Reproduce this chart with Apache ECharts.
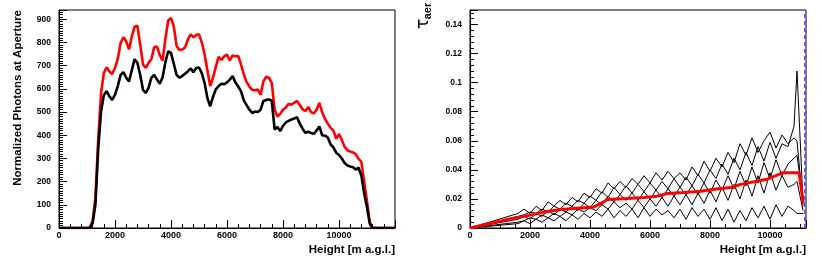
<!DOCTYPE html>
<html><head><meta charset="utf-8">
<script src="https://cdn.jsdelivr.net/npm/echarts@6/dist/echarts.min.js"></script>
<style>html,body{margin:0;padding:0;background:#fff}#c{width:822px;height:261px}</style>
</head><body><div id="c"></div>
<script>
// ---- Left panel: photons vs height ----
const heightsL = [0,
 1000,1100,1200,1300,1400,1500,1600,1700,1800,1900,
 2000,2100,2200,2300,2400,2500,2600,2700,2800,2900,
 3000,3100,3200,3300,3400,3500,3600,3700,3800,3900,
 4000,4100,4200,4300,4400,4500,4600,4700,4800,4900,
 5000,5100,5200,5300,5400,5500,5600,5700,5800,5900,
 6000,6100,6200,6300,6400,6500,6600,6700,6800,6900,
 7000,7100,7200,7300,7400,7500,7600,7700,7800,7900,
 8000,8100,8200,8300,8400,8500,8600,8700,8800,8900,
 9000,9100,9200,9300,9400,9500,9600,9700,9800,9900,
 10000,10100,10200,10300,10400,10500,10600,10700,10800,10900,
 11000,11100,11200,
 12000];
const photonsRed = [0,
 0,2,30,130,380,580,668,693,675,664,
 690,730,797,822,805,770,826,868,872,790,
 705,690,712,728,780,782,745,722,815,895,
 905,870,785,768,770,778,812,835,822,832,
 835,800,748,680,612,648,695,738,725,740,
 748,722,744,740,742,705,662,630,610,596,
 594,597,575,632,652,648,625,512,480,492,
 510,520,535,532,540,548,530,512,505,522,
 500,494,510,540,498,470,450,432,420,385,
 405,380,350,335,330,326,318,298,285,200,
 115,25,0,
 0];
const photonsBlack = [0,
 0,1,20,100,340,500,572,590,568,552,
 575,612,660,672,648,632,680,728,712,660,
 596,582,605,648,660,640,622,650,715,762,
 755,708,660,648,655,665,675,688,672,690,
 692,668,625,560,525,565,598,612,622,620,
 628,640,655,628,610,590,550,530,510,496,
 502,500,510,548,552,555,548,425,435,418,
 440,455,462,468,472,478,450,428,410,415,
 410,406,420,438,400,398,390,360,348,325,
 315,300,280,270,265,262,252,260,225,150,
 88,18,0,
 0];

// ---- Right panel: tau_aer vs height ----
const heightsR = [0,1600,1800,2000,2200,2400,2600,2800,3000,3200,
 3400,3600,3800,4000,4200,4400,4600,4800,5000,5200,
 5400,5600,5800,6000,6200,6400,6600,6800,7000,7200,
 7400,7600,7800,8000,8200,8400,8600,8800,9000,9200,
 9400,9600,9800,10000,10200,10400,10600,10800,10900,11100];
const tauU = [0,.010,.013,.010,.015,.012,.018,.015,.019,.016,
 .021,.018,.024,.021,.027,.024,.031,.027,.032,.028,
 .034,.030,.036,.031,.038,.033,.039,.034,.038,.033,
 .042,.036,.046,.039,.048,.042,.052,.045,.058,.050,
 .062,.052,.060,.066,.055,.064,.058,.062,.060,.015];
const tauUM = [0,.008,.009,.011,.010,.013,.011,.015,.013,.017,
 .015,.019,.017,.022,.019,.025,.021,.028,.023,.029,
 .024,.030,.025,.031,.026,.032,.027,.034,.028,.035,
 .029,.037,.031,.040,.034,.044,.037,.048,.040,.052,
 .043,.056,.046,.059,.048,.058,.056,.070,.108,.018];
const tauM = [0,.006,.008,.006,.010,.008,.012,.009,.013,.011,
 .015,.012,.017,.014,.019,.016,.022,.018,.023,.019,
 .024,.019,.025,.020,.026,.021,.027,.022,.028,.023,
 .029,.023,.031,.024,.033,.026,.036,.027,.039,.029,
 .042,.031,.045,.034,.047,.036,.044,.048,.050,.020];
const tauLM = [0,.004,.005,.007,.006,.009,.007,.010,.008,.011,
 .009,.013,.011,.014,.012,.016,.013,.018,.014,.017,
 .013,.019,.014,.020,.015,.021,.015,.022,.016,.023,
 .016,.024,.017,.026,.018,.028,.019,.030,.020,.033,
 .022,.036,.024,.038,.026,.036,.028,.030,.032,.012];
const tauL = [0,.003,.005,.003,.006,.004,.007,.005,.008,.005,
 .009,.006,.010,.007,.011,.008,.013,.007,.012,.008,
 .013,.007,.014,.008,.013,.009,.012,.007,.013,.006,
 .014,.008,.013,.006,.014,.005,.013,.004,.012,.005,
 .014,.007,.015,.006,.016,.008,.015,.012,.010,.010];
const tauMeanH = [0,1360,1970,2470,3020,3580,4130,4360,4580,5240,5800,6240,6580,7130,7690,8130,8690,9020,9470,9910,10240,10410,10970,11020,11110];
const tauMeanV = [0,0.0064,0.0087,0.011,0.0127,0.0136,0.0145,0.0168,0.0196,0.0203,0.021,0.0219,0.0237,0.0244,0.0253,0.0267,0.0279,0.030,0.0318,0.0336,0.0364,0.038,0.038,0.0375,0.0168];
const cutHeight = 11170;

const xTicksL = {min:0, max:12000, interval:2000};
const xTicksR = {min:0, max:11200, interval:2000};
const yTicksL = {min:0, max:940, interval:100};
const yTicksR = {min:0, max:0.15, interval:0.02};

const pair = (xs, ys) => xs.map((x,i)=>[x, ys[i]]);
const FONT = '"Liberation Sans", Arial, Helvetica, sans-serif';

function xAxis(idx, t, minorSplit){
  return {type:'value', gridIndex:idx, min:t.min, max:t.max, interval:t.interval,
    axisLine:{show:true, lineStyle:{color:'#000', width:1}},
    axisTick:{show:true, inside:true, length:8, lineStyle:{color:'#000'}},
    minorTick:{show:true, splitNumber:minorSplit, length:4, lineStyle:{color:'#000'}},
    splitLine:{show:false}, minorSplitLine:{show:false},
    axisLabel:{show:true, showMaxLabel:false, margin:3, color:'#000', fontFamily:FONT, fontWeight:'bold', fontSize:9,
      formatter:v=>String(v)}
  };
}
function yAxis(idx, t, minorSplit, fmt){
  return {type:'value', gridIndex:idx, min:t.min, max:t.max, interval:t.interval,
    axisLine:{show:true, lineStyle:{color:'#000', width:1}},
    axisTick:{show:true, inside:true, length:8, lineStyle:{color:'#000'}},
    minorTick:{show:true, splitNumber:minorSplit, length:4, lineStyle:{color:'#000'}},
    splitLine:{show:false}, minorSplitLine:{show:false},
    axisLabel:{show:true, showMaxLabel:false, margin:8, color:'#000', fontFamily:FONT, fontWeight:'bold', fontSize:8.5, formatter:fmt}
  };
}

const thin = (data)=>({type:'line', xAxisIndex:1, yAxisIndex:1, data, symbol:'none', silent:true,
  lineStyle:{color:'#000', width:1}, z:2, animation:false});

const chart = echarts.init(document.getElementById('c'), null, {renderer:'canvas'});
chart.setOption({
  backgroundColor:'#fff',
  animation:false,
  grid:[
    {left:59, top:10, width:336, height:218, show:true, borderColor:'#000', borderWidth:1, backgroundColor:'transparent', containLabel:false, outerBoundsMode:'none'},
    {left:470, top:10, width:336, height:218, show:true, borderColor:'#000', borderWidth:1, backgroundColor:'transparent', containLabel:false, outerBoundsMode:'none'}
  ],
  xAxis:[ xAxis(0, xTicksL, 5), xAxis(1, xTicksR, 4) ],
  yAxis:[
    yAxis(0, yTicksL, 10, v=>String(v)),
    yAxis(1, yTicksR, 5, v=> v===0 ? '0' : String(+v.toFixed(2)))
  ],
  series:[
    {type:'line', xAxisIndex:0, yAxisIndex:0, data:pair(heightsL, photonsRed), symbol:'none',
      lineStyle:{color:'#ff0000', width:2.6}, z:2},
    {type:'line', xAxisIndex:0, yAxisIndex:0, data:pair(heightsL, photonsBlack), symbol:'none',
      lineStyle:{color:'#000', width:2.6}, z:3},
    thin(pair(heightsR, tauU)),
    thin(pair(heightsR, tauUM)),
    thin(pair(heightsR, tauM)),
    thin(pair(heightsR, tauLM)),
    thin(pair(heightsR, tauL)),
    {type:'line', xAxisIndex:1, yAxisIndex:1, data:pair(tauMeanH, tauMeanV), symbol:'none',
      lineStyle:{color:'#ff0000', width:3}, z:4,
      markLine:{silent:true, symbol:'none', label:{show:false},
        lineStyle:{color:'#5a5aff', width:2, type:[4,3]},
        data:[{xAxis:cutHeight}]}}
  ],
  graphic:[
    {type:'text', x:395, y:250, style:{text:'Height [m a.g.l.]', fontFamily:FONT, fontWeight:'bold', fontSize:11.5, fill:'#000', align:'right', verticalAlign:'middle', textAlign:'right', textVerticalAlign:'middle'}},
    {type:'text', x:806, y:250, style:{text:'Height [m a.g.l.]', fontFamily:FONT, fontWeight:'bold', fontSize:11.5, fill:'#000', align:'right', verticalAlign:'middle', textAlign:'right', textVerticalAlign:'middle'}},
    {type:'text', x:17.5, y:10, rotation:Math.PI/2, style:{text:'Normalized Photons at Aperture', fontFamily:FONT, fontWeight:'bold', fontSize:11.5, fill:'#000', align:'right', verticalAlign:'middle', textAlign:'right', textVerticalAlign:'middle'}},
    {type:'text', x:424, y:24, rotation:Math.PI/2, style:{text:'τ', fontFamily:'"DejaVu Sans", sans-serif', fontSize:17, fill:'#000', align:'center', verticalAlign:'middle', textAlign:'center', textVerticalAlign:'middle'}},
    {type:'text', x:427.5, y:11, rotation:Math.PI/2, style:{text:'aer', fontFamily:FONT, fontWeight:'bold', fontSize:11, fill:'#000', align:'center', verticalAlign:'middle', textAlign:'center', textVerticalAlign:'middle'}}
  ]
});
</script>
</body></html>
